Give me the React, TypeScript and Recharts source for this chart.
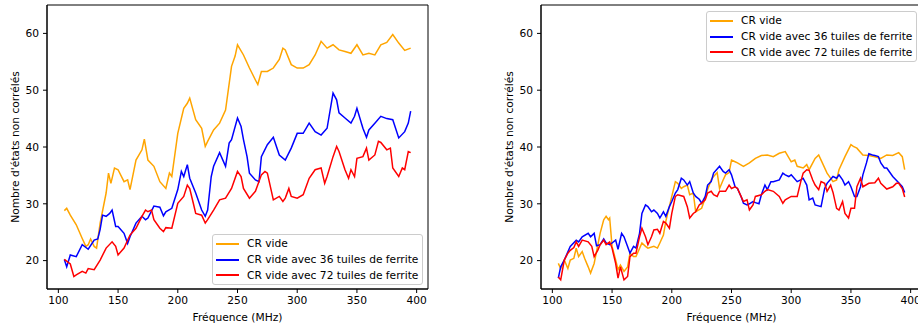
import React from "react";
import { LineChart, Line, XAxis, YAxis, Legend, ReferenceArea } from "recharts";

// [frequency MHz, value] pairs
const leftVide: [number, number][] = [
  [105, 28.8], [107, 29.2], [110, 28.0], [115, 26.3], [120, 23.9], [123, 22.5], [125, 22.8], [127, 23.8],
  [130, 22.5], [132, 22.2], [135, 26.6], [140, 31.9], [142, 35.4], [144, 33.6], [147, 36.3], [150, 36.0],
  [155, 33.9], [158, 34.2], [160, 32.5], [165, 37.7], [170, 39.5], [172, 41.4], [175, 37.7], [180, 36.6],
  [185, 33.9], [190, 32.7], [193, 35.4], [195, 34.8], [200, 42.4], [205, 46.8], [208, 47.7], [210, 48.6],
  [215, 44.8], [220, 43.3], [223, 40.1], [225, 41.0], [230, 43.0], [235, 44.2], [240, 46.5], [245, 54.2],
  [248, 56.0], [250, 58.0], [255, 56.2], [260, 53.9], [265, 51.8], [267, 51.0], [270, 53.3], [275, 53.3],
  [280, 53.9], [285, 55.4], [288, 57.4], [290, 57.1], [295, 54.5], [300, 53.9], [305, 53.9], [310, 54.5],
  [315, 56.2], [320, 58.6], [325, 57.4], [330, 58.0], [335, 57.1], [340, 56.8], [345, 56.5], [350, 58.0],
  [355, 56.2], [360, 56.5], [365, 56.2], [370, 58.0], [375, 58.4], [380, 59.8], [385, 58.3], [390, 57.0],
  [395, 57.4],
];

const left36: [number, number][] = [
  [105, 20.2], [107, 18.9], [110, 21.0], [115, 20.7], [120, 22.8], [125, 22.0], [130, 23.6], [133, 23.8],
  [135, 25.5], [137, 28.0], [140, 27.8], [143, 28.3], [145, 28.9], [148, 26.0], [150, 26.0], [155, 24.8],
  [158, 23.0], [160, 24.2], [165, 26.6], [170, 27.8], [173, 27.2], [175, 27.5], [180, 29.6], [185, 29.4],
  [188, 27.9], [190, 28.6], [195, 29.2], [200, 32.5], [203, 35.7], [205, 34.8], [208, 36.9], [210, 34.5],
  [215, 31.9], [220, 28.9], [223, 27.8], [225, 28.9], [228, 34.8], [230, 36.6], [235, 39.0], [240, 36.6],
  [243, 40.7], [245, 41.3], [250, 45.1], [253, 43.6], [255, 41.3], [258, 38.3], [260, 35.4], [265, 34.2],
  [268, 33.9], [270, 38.3], [275, 40.4], [280, 41.7], [285, 38.6], [290, 37.7], [295, 39.8], [300, 42.4],
  [305, 42.4], [310, 44.2], [315, 42.7], [320, 42.1], [325, 43.3], [330, 49.5], [333, 48.3], [335, 46.0],
  [340, 45.1], [345, 44.2], [348, 45.4], [350, 46.8], [355, 43.3], [358, 41.7], [360, 43.0], [365, 44.2],
  [370, 45.4], [375, 45.0], [380, 44.8], [385, 41.6], [390, 42.7], [393, 44.2], [395, 46.3],
];

const left72: [number, number][] = [
  [105, 20.2], [110, 19.4], [113, 17.2], [115, 17.5], [120, 18.1], [123, 17.8], [125, 18.6], [130, 18.4],
  [135, 20.1], [140, 22.2], [145, 23.3], [148, 22.5], [150, 21.0], [155, 22.2], [160, 24.5], [165, 25.7],
  [170, 27.8], [173, 28.9], [175, 28.6], [178, 28.9], [180, 27.2], [185, 25.7], [188, 25.1], [190, 25.8],
  [195, 25.7], [200, 30.1], [205, 31.3], [208, 33.3], [210, 32.7], [213, 30.1], [215, 28.3], [220, 28.0],
  [223, 26.6], [225, 27.2], [230, 28.9], [235, 30.7], [240, 31.0], [245, 32.7], [250, 35.7], [253, 34.8],
  [255, 32.7], [260, 31.0], [265, 32.2], [270, 35.1], [273, 35.7], [275, 35.4], [280, 30.7], [285, 31.3],
  [288, 30.4], [290, 31.0], [293, 32.7], [295, 31.3], [300, 31.0], [305, 31.6], [310, 34.5], [315, 36.0],
  [320, 36.3], [323, 33.6], [325, 34.8], [330, 38.3], [333, 40.1], [335, 39.2], [340, 36.0], [343, 34.5],
  [345, 36.0], [348, 34.8], [350, 38.0], [355, 38.3], [358, 39.8], [360, 37.7], [365, 38.6], [368, 41.0],
  [370, 40.8], [375, 39.5], [378, 39.8], [380, 36.3], [385, 34.8], [388, 36.3], [390, 36.0], [393, 39.2],
  [395, 39.0],
];

const rightVide: [number, number][] = [
  [105, 19.5], [107, 18.6], [110, 20.1], [113, 18.6], [115, 20.1], [118, 20.4], [120, 22.2], [122, 20.7],
  [125, 21.6], [127, 20.4], [130, 18.9], [132, 17.8], [135, 19.5], [140, 24.8], [143, 27.2], [145, 27.8],
  [147, 27.2], [148, 27.5], [150, 22.5], [153, 20.1], [155, 18.4], [157, 19.2], [160, 18.1], [163, 18.9],
  [165, 21.3], [168, 20.7], [170, 20.7], [175, 23.1], [178, 22.5], [180, 22.2], [185, 22.5], [188, 22.2],
  [190, 23.1], [193, 24.5], [195, 26.9], [200, 31.3], [203, 33.9], [205, 33.6], [208, 32.7], [210, 33.0],
  [213, 33.3], [215, 31.6], [218, 31.9], [220, 28.6], [225, 29.2], [228, 31.0], [230, 32.5], [233, 34.2],
  [235, 34.8], [238, 35.5], [240, 32.7], [243, 34.2], [245, 35.1], [248, 35.5], [250, 37.7], [253, 37.4],
  [255, 37.2], [260, 36.6], [265, 37.2], [270, 38.0], [275, 38.5], [280, 38.6], [285, 38.3], [290, 38.9],
  [295, 39.2], [300, 37.4], [303, 37.7], [305, 36.6], [310, 36.3], [313, 36.9], [315, 36.0], [320, 38.0],
  [323, 38.6], [325, 37.7], [330, 35.4], [335, 33.9], [338, 34.2], [340, 36.0], [345, 38.3], [350, 40.4],
  [352, 40.1], [355, 39.8], [360, 38.6], [365, 38.5], [370, 38.3], [375, 38.0], [380, 38.6], [385, 38.5],
  [390, 39.0], [393, 38.3], [395, 36.0],
];

const right36: [number, number][] = [
  [105, 16.9], [107, 18.9], [110, 20.1], [115, 22.5], [120, 23.6], [122, 23.3], [125, 24.2], [130, 24.8],
  [132, 24.2], [135, 24.8], [137, 22.6], [140, 22.8], [143, 23.8], [145, 23.1], [148, 22.8], [150, 23.1],
  [153, 23.6], [155, 22.0], [158, 24.8], [160, 24.2], [163, 22.5], [165, 21.3], [168, 22.5], [170, 22.2],
  [173, 24.8], [175, 28.3], [178, 29.8], [180, 29.5], [183, 28.6], [185, 28.9], [188, 28.3], [190, 27.5],
  [193, 28.6], [195, 27.8], [198, 29.5], [200, 30.4], [203, 31.9], [205, 32.5], [208, 34.5], [210, 34.2],
  [213, 33.3], [215, 33.9], [218, 31.9], [220, 31.3], [223, 30.8], [225, 30.1], [228, 31.3], [230, 33.3],
  [233, 33.9], [235, 35.4], [240, 36.6], [243, 35.7], [245, 35.4], [248, 36.0], [250, 35.1], [253, 33.0],
  [255, 32.7], [258, 31.3], [260, 30.1], [263, 29.8], [265, 30.0], [268, 30.4], [270, 30.2], [273, 30.0],
  [275, 31.6], [278, 33.3], [280, 32.5], [283, 33.9], [285, 33.9], [290, 34.2], [293, 35.4], [295, 35.1],
  [298, 34.8], [300, 35.1], [305, 33.9], [308, 34.2], [310, 34.5], [313, 33.3], [315, 30.7], [318, 31.0],
  [320, 29.8], [325, 29.5], [328, 32.7], [330, 33.6], [335, 34.8], [338, 34.5], [340, 35.1], [343, 34.2],
  [345, 33.3], [348, 33.9], [350, 33.0], [353, 31.3], [355, 31.3], [358, 33.0], [360, 35.1], [363, 37.2],
  [365, 38.8], [368, 38.6], [370, 38.5], [373, 38.3], [375, 37.2], [378, 36.3], [380, 36.3], [385, 34.8],
  [390, 33.7], [393, 33.0], [395, 32.0],
];

const right72: [number, number][] = [
  [105, 17.1], [107, 16.6], [110, 20.1], [113, 21.3], [115, 21.8], [118, 22.3], [120, 23.3], [122, 22.5],
  [125, 23.6], [130, 23.3], [133, 22.5], [135, 20.7], [138, 21.8], [140, 22.8], [143, 23.6], [145, 22.8],
  [148, 23.3], [150, 22.2], [153, 19.5], [155, 16.9], [157, 18.9], [160, 16.6], [163, 17.2], [165, 20.7],
  [168, 21.3], [170, 21.3], [173, 24.2], [175, 25.7], [178, 24.2], [180, 22.8], [183, 24.2], [185, 25.4],
  [188, 25.5], [190, 24.8], [193, 26.9], [195, 26.6], [198, 25.7], [200, 28.3], [203, 31.3], [205, 31.6],
  [210, 31.3], [213, 29.5], [215, 27.5], [218, 28.3], [220, 28.6], [223, 29.8], [225, 30.1], [228, 30.7],
  [230, 31.9], [233, 32.2], [235, 31.6], [238, 31.3], [240, 32.2], [245, 32.2], [248, 33.3], [250, 32.7],
  [253, 33.0], [255, 32.7], [258, 31.3], [260, 30.4], [263, 30.7], [265, 28.9], [268, 29.8], [270, 31.3],
  [275, 31.6], [278, 32.2], [280, 32.5], [285, 32.2], [290, 31.3], [293, 30.1], [295, 30.7], [300, 31.3],
  [305, 31.3], [308, 33.9], [310, 35.4], [313, 36.0], [315, 35.9], [318, 34.2], [320, 33.3], [323, 32.5],
  [325, 33.9], [328, 33.6], [330, 32.2], [333, 33.3], [335, 32.0], [338, 29.2], [340, 28.9], [343, 30.4],
  [345, 28.3], [348, 27.5], [350, 29.2], [353, 29.2], [355, 33.0], [358, 34.5], [360, 33.0], [365, 33.6],
  [370, 33.7], [373, 34.5], [375, 33.6], [380, 32.6], [385, 33.0], [388, 33.6], [390, 33.6], [393, 32.7],
  [395, 31.2],
];

const seriesNames = [
  "CR vide",
  "CR vide avec 36 tuiles de ferrite",
  "CR vide avec 72 tuiles de ferrite",
];
const seriesColors = ["#FFA500", "#0000FF", "#FF0000"];
const xTicks = [100, 150, 200, 250, 300, 350, 400];
const yTicks = [20, 30, 40, 50, 60];
const xDomain: [number, number] = [90.5, 409.5];
const yDomain: [number, number] = [15, 65];
const FONT = 10.67;

const toPoints = (pairs: [number, number][]) => pairs.map(([f, v]) => ({ f, v }));

const LegendBox = (props: any) => {
  const items = props.payload || [];
  return (
    <div
      style={{
        border: "1px solid #cccccc",
        borderRadius: 3,
        background: "rgba(255,255,255,0.8)",
        padding: "1px 4px 1px 3px",
        fontSize: FONT,
        color: "#000",
      }}
    >
      {items.map((it: any) => (
        <div key={it.value} style={{ display: "flex", alignItems: "center", height: 15.7, whiteSpace: "nowrap" }}>
          <span style={{ display: "inline-block", width: 23, height: 2, background: it.color, marginRight: 8 }} />
          <span>{it.value}</span>
        </div>
      ))}
    </div>
  );
};

interface PanelProps {
  data: [number, number][][];
  legendTop: number;
}

const Panel: React.FC<PanelProps> = ({ data, legendTop }) => (
  <LineChart width={460} height={324} margin={{ top: 5, right: 32, bottom: 0, left: 0 }}>
    <XAxis
      dataKey="f"
      type="number"
      domain={xDomain}
      ticks={xTicks}
      allowDataOverflow
      tickSize={4}
      tickMargin={3}
      height={35}
      stroke="#000"
      tick={{ fill: "#000", fontSize: FONT }}
      label={{ value: "Fréquence (MHz)", position: "insideBottom", offset: 3, fill: "#000", fontSize: FONT }}
    />
    <YAxis
      type="number"
      domain={yDomain}
      ticks={yTicks}
      allowDataOverflow
      width={47}
      tickSize={4}
      tickMargin={4}
      stroke="#000"
      tick={{ fill: "#000", fontSize: FONT }}
      label={{
        value: "Nombre d'états non corrélés",
        angle: -90,
        position: "insideLeft",
        offset: 15,
        fill: "#000",
        fontSize: FONT,
        style: { textAnchor: "middle" },
      }}
    />
    {/* frame: top and right spines */}
    <ReferenceArea
      x1={xDomain[0]}
      x2={xDomain[1]}
      y1={yDomain[0]}
      y2={yDomain[1]}
      fill="none"
      fillOpacity={0}
      stroke="#000"
      strokeWidth={1}
      ifOverflow="visible"
    />
    <Legend
      layout="vertical"
      align="center"
      verticalAlign="middle"
      content={<LegendBox />}
      wrapperStyle={{ left: 212, top: legendTop, width: "auto", height: "auto" }}
    />
    {data.map((pairs, i) => (
      <Line
        key={seriesNames[i]}
        data={toPoints(pairs)}
        dataKey="v"
        name={seriesNames[i]}
        type="linear"
        stroke={seriesColors[i]}
        strokeWidth={1.5}
        dot={false}
        isAnimationActive={false}
      />
    ))}
  </LineChart>
);

export default function App() {
  return (
    <div
      style={{
        position: "fixed",
        left: 0,
        top: 0,
        width: 918,
        height: 324,
        overflow: "hidden",
        background: "#fff",
        fontFamily: "'DejaVu Sans', sans-serif",
      }}
    >
      <div style={{ position: "absolute", left: 0, top: 0 }}>
        <Panel data={[leftVide, left36, left72]} legendTop={234} />
      </div>
      <div style={{ position: "absolute", left: 494, top: 0 }}>
        <Panel data={[rightVide, right36, right72]} legendTop={11} />
      </div>
    </div>
  );
}
